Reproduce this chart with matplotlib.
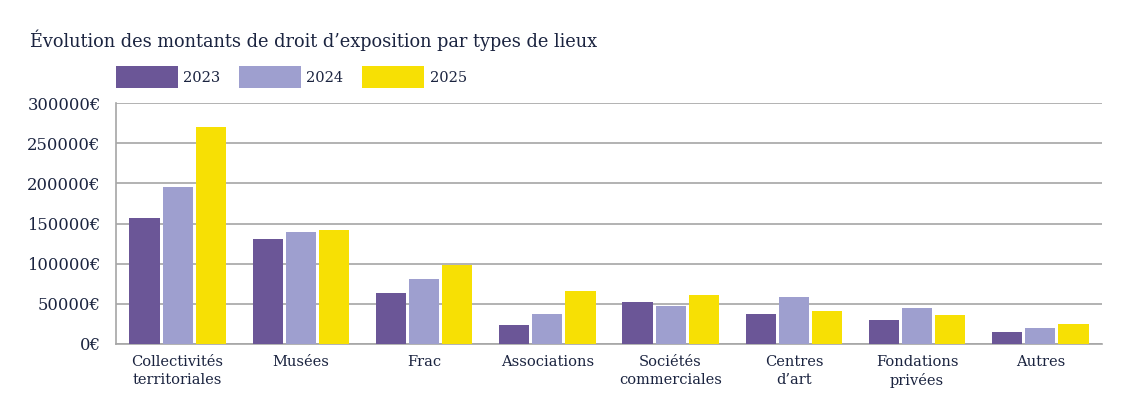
import numpy as np
import matplotlib
matplotlib.use("Agg")
import matplotlib.pyplot as plt

categories = ["Collectivités\nterritoriales", "Musées", "Frac", "Associations",
              "Sociétés\ncommerciales", "Centres\nd’art", "Fondations\nprivées", "Autres"]
years = ["2023", "2024", "2025"]
v2023 = [157000, 130500, 63500, 23500, 52500, 37500, 30000, 15000]
v2024 = [195500, 139500, 81000, 37500, 47500, 58500, 45000, 20000]
v2025 = [270000, 142000, 98500, 66000, 61000, 41000, 36000, 25000]
colors = ["#6b5697", "#9e9fcf", "#f7e004"]
text_col = "#1b2440"

fig = plt.figure(figsize=(11.48, 4.04), dpi=100)
ax = fig.add_axes([116 / 1148, 1 - 344 / 404, 986 / 1148, 241 / 404])

x = np.arange(len(categories))
w = 0.245
step = 0.268
for i, (vals, lab) in enumerate(zip([v2023, v2024, v2025], years)):
    ax.bar(x + (i - 1) * step, vals, width=w, color=colors[i], label=lab, zorder=3)

ax.set_xlim(-0.5, len(categories) - 0.5)
ax.set_ylim(0, 300000)
ax.set_yticks(np.arange(0, 300001, 50000))
ax.set_yticklabels([f"{int(t)}€" for t in np.arange(0, 300001, 50000)],
                   family="DejaVu Serif", fontsize=11.8, fontweight="medium", color=text_col)
ax.set_xticks(x)
ax.set_xticklabels(categories, family="DejaVu Serif", fontsize=10.5, color=text_col,
                   linespacing=1.35)
ax.yaxis.grid(True, color="#a6a6a6", linewidth=1.2, zorder=0)
ax.tick_params(axis="x", length=0, pad=8)
ax.tick_params(axis="y", length=0, pad=11)
for s in ["top", "right"]:
    ax.spines[s].set_visible(False)
for s in ["left", "bottom"]:
    ax.spines[s].set_color("#a6a6a6")
    ax.spines[s].set_linewidth(1.2)

fig.text(30 / 1148, 1 - 40 / 404, "Évolution des montants de droit d’exposition par types de lieux",
         family="DejaVu Serif", fontsize=12.8, color=text_col, va="center", ha="left")

leg = ax.legend(ncol=3, loc="upper left", bbox_to_anchor=(0, 1 + (103 - 66) / 241),
                frameon=False, handlelength=4.25, handleheight=1.95,
                handletextpad=0.35, columnspacing=1.3, borderaxespad=0, borderpad=0,
                prop={"family": "DejaVu Serif", "size": 10.5})
for t in leg.get_texts():
    t.set_color(text_col)

fig.savefig("out.png", dpi=100)
